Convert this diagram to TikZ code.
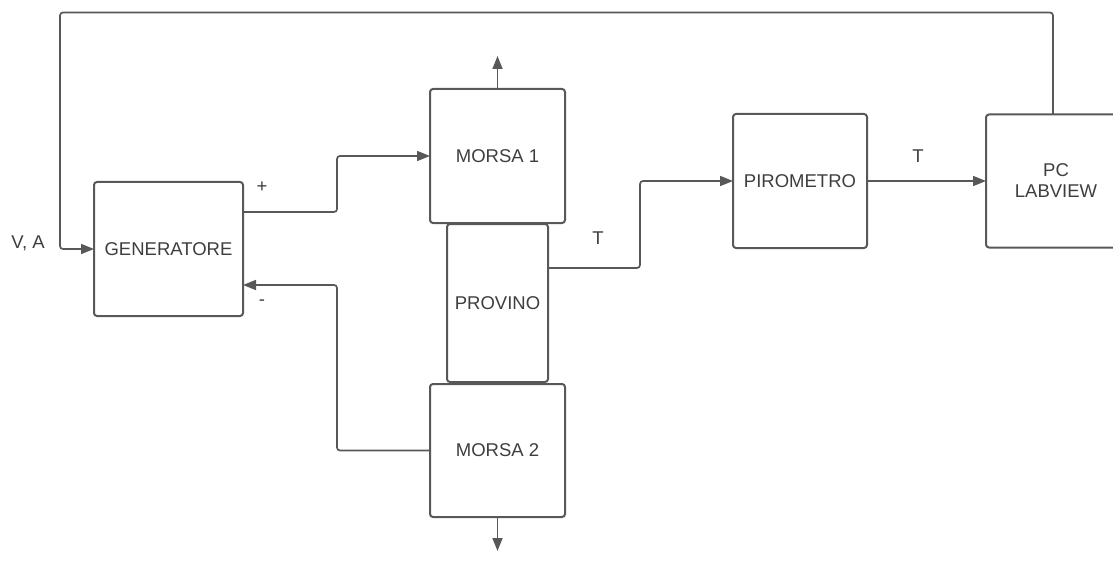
\documentclass[tikz,border=0pt]{standalone}
\usepackage{fontspec}
\setmainfont{Liberation Sans}
\usetikzlibrary{arrows.meta,positioning}

\definecolor{linegray}{RGB}{88,88,88}
\definecolor{textgray}{RGB}{62,62,62}

\begin{document}
\begin{tikzpicture}[
  x=1pt, y=-1pt,
  block/.style={
    rectangle,
    rounded corners=3pt,
    draw=linegray,
    line width=2pt,
    outer sep=0pt,
    text=textgray,
    align=center,
    font=\fontsize{18.5}{21}\selectfont
  },
  lbl/.style={text=textgray, font=\fontsize{18.5}{21}\selectfont},
  flow/.style={-{Triangle[length=13pt,width=10pt]}, draw=linegray, line width=1.7pt, rounded corners=3pt}
]
\useasboundingbox (0,0) rectangle (1113,564);

% --- GENERATORE ---------------------------------------------------
\node[block, minimum width=149pt, minimum height=134pt] (gen) at (168.5,249) {GENERATORE};

% --- MORSE E PROVINO ----------------------------------------------
\node[block, minimum width=135pt, minimum height=134pt] (morsa1) at (497.5,156) {MORSA 1};
\node[block, minimum width=101pt, minimum height=158pt, below=1pt of morsa1] (provino) {PROVINO};
\node[block, minimum width=135pt, minimum height=133pt, below=2pt of provino] (morsa2) {MORSA 2};

% --- PIROMETRO / PC -----------------------------------------------
\node[block, minimum width=134pt, minimum height=134pt] (piro) at (800,181) {PIROMETRO};
\node[block, minimum width=140pt, minimum height=133pt, right=119pt of piro] (pc) {PC\\LABVIEW};

% --- ETICHETTE ----------------------------------------------------
\node[lbl] (plus) at (262,187) {+};
\node[lbl] (minus) at (262,303) {-};
\node[lbl] (tprov) at (598,238) {T};
\node[lbl] (tpiro) at (918,156) {T};
\node[lbl] (va) at (28,243) {V, A};

% --- FRECCE -------------------------------------------------------
\draw[flow] (morsa1.north) -- ++(0,-33);
\draw[flow] (morsa2.south) -- ++(0,34);
\draw[flow] ([yshift=37pt]gen.east) -- ++(94,0) |- (morsa1.west);
\draw[flow] (morsa2.west) -- ++(-93,0) |- ([yshift=-36pt]gen.east);
\draw[flow] ([yshift=35pt]provino.east) -- ++(92,0) |- (piro.west);
\draw[flow] (piro) -- (pc);
\draw[flow] ([xshift=-3pt]pc.north) -- ++(0,-102) -| ([xshift=-34pt]gen.west) -- (gen.west);

\end{tikzpicture}
\end{document}
